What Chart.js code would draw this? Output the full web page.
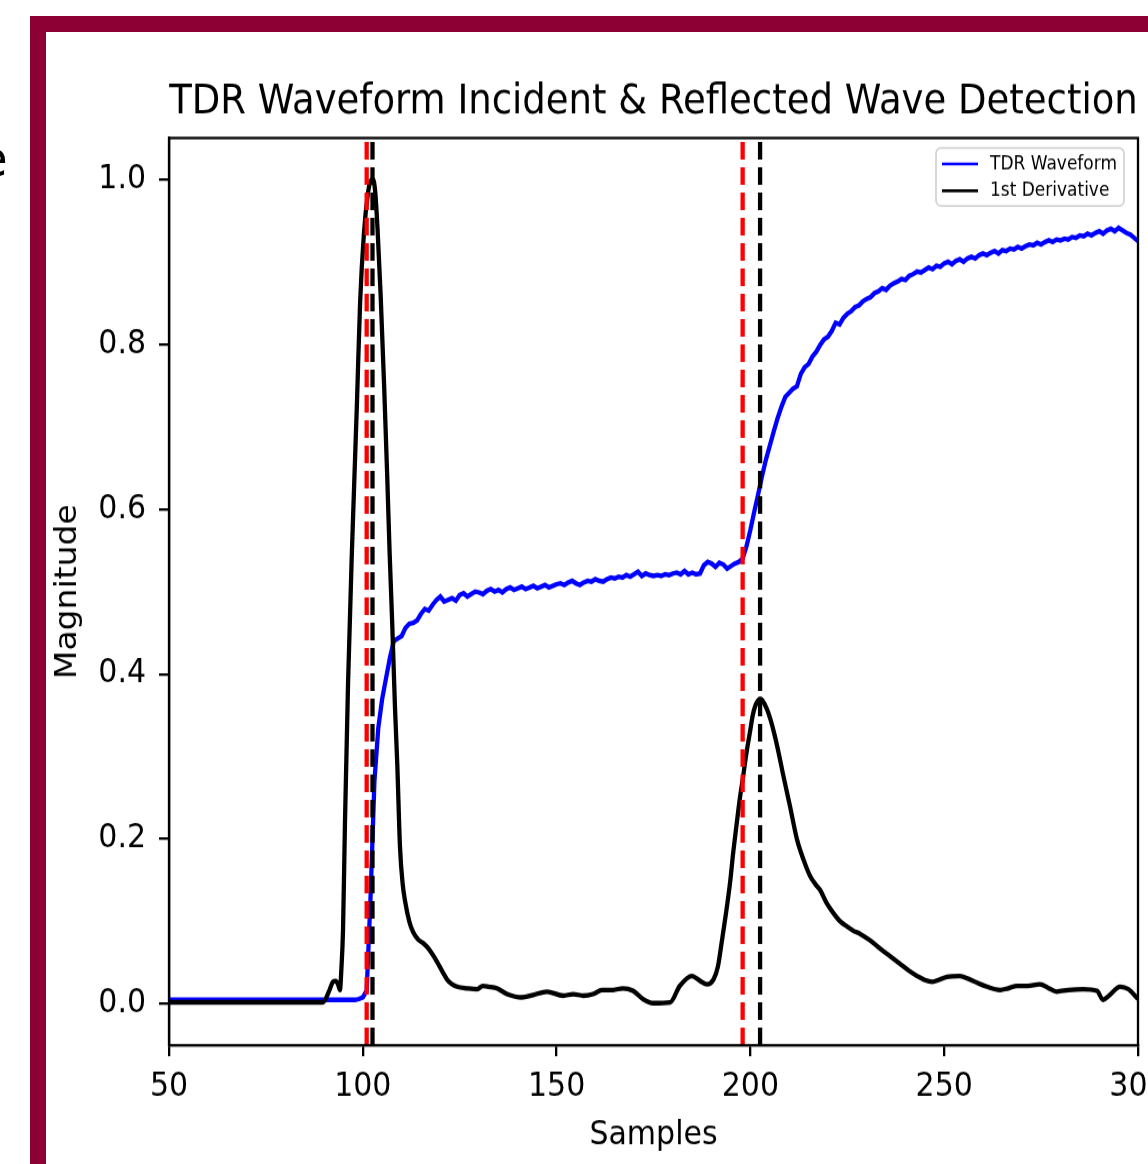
<!DOCTYPE html>
<html>
<head>
<meta charset="utf-8">
<script src="https://cdn.jsdelivr.net/npm/chart.js@4.4.1/dist/chart.umd.min.js"></script>
<style>
  html, body { margin:0; padding:0; background:#fff; overflow:hidden; width:1148px; height:1164px; }
  #wrap { position:absolute; left:0; top:0; width:1200px; height:1058px; transform:scaleY(1.1002); transform-origin:0 0; }
  #frameL { position:absolute; left:30px; top:16px; width:16px; height:1148px; background:#8c0033; }
  #frameT { position:absolute; left:30px; top:16px; width:1118px; height:16px; background:#8c0033; }
  #frag { position:absolute; left:-23px; top:134px; font:50px "DejaVu Sans"; line-height:1; color:#000; }
</style>
</head>
<body>
<div id="frag">e</div>
<div id="wrap"><canvas id="c" width="1200" height="1058"></canvas></div>
<div id="frameL"></div>
<div id="frameT"></div>
<script>
// ---------------- data ----------------
const titleText = "TDR Waveform Incident & Reflected Wave Detection";
const xLabel = "Samples";
const yLabel = "Magnitude";
const xTicks = [50, 100, 150, 200, 250, 300];
const yTicks = [0.0, 0.2, 0.4, 0.6, 0.8, 1.0];
const xMin = 50, xMax = 300, yMin = -0.05, yMax = 1.05;

// TDR waveform, one value per sample starting at sample 50
const waveformStart = 50;
const waveformValues = [
  0.005,0.005,0.005,0.005,0.005,0.005,0.005,0.005,0.005,0.005, // 50
  0.005,0.005,0.005,0.005,0.005,0.005,0.005,0.005,0.005,0.005, // 60
  0.005,0.005,0.005,0.005,0.005,0.005,0.005,0.005,0.005,0.005, // 70
  0.005,0.005,0.005,0.005,0.005,0.005,0.005,0.005,0.005,0.005, // 80
  0.005,0.005,0.005,0.005,0.005,0.005,0.005,0.005,0.005,0.006, // 90
  0.008,0.016,0.130,0.270,0.335,0.370,0.395,0.420,0.440,0.443, // 100
  0.446,0.456,0.461,0.462,0.465,0.473,0.479,0.477,0.484,0.490, // 110
  0.494,0.488,0.490,0.492,0.489,0.496,0.498,0.494,0.497,0.500, // 120
  0.499,0.497,0.501,0.503,0.500,0.502,0.499,0.503,0.505,0.502, // 130
  0.504,0.506,0.503,0.505,0.507,0.504,0.506,0.508,0.505,0.507, // 140
  0.509,0.510,0.508,0.511,0.513,0.510,0.508,0.511,0.513,0.512, // 150
  0.515,0.513,0.512,0.515,0.517,0.516,0.518,0.517,0.520,0.518, // 160
  0.521,0.524,0.519,0.522,0.520,0.519,0.520,0.519,0.521,0.520, // 170
  0.522,0.523,0.521,0.525,0.521,0.523,0.521,0.522,0.532,0.536, // 180
  0.534,0.530,0.535,0.533,0.528,0.531,0.534,0.536,0.540,0.555, // 190
  0.575,0.597,0.618,0.640,0.660,0.677,0.694,0.710,0.724,0.736, // 200
  0.741,0.746,0.749,0.764,0.772,0.776,0.785,0.791,0.799,0.806, // 210
  0.809,0.816,0.826,0.824,0.832,0.837,0.840,0.845,0.847,0.852, // 220
  0.855,0.857,0.862,0.864,0.868,0.866,0.871,0.874,0.876,0.879, // 230
  0.878,0.883,0.885,0.888,0.887,0.890,0.893,0.891,0.895,0.894, // 240
  0.898,0.900,0.897,0.901,0.903,0.900,0.904,0.906,0.904,0.908, // 250
  0.910,0.908,0.911,0.913,0.910,0.914,0.913,0.916,0.915,0.918, // 260
  0.916,0.919,0.921,0.920,0.923,0.921,0.924,0.926,0.924,0.927, // 270
  0.926,0.928,0.927,0.930,0.929,0.932,0.931,0.934,0.932,0.935, // 280
  0.937,0.934,0.938,0.940,0.937,0.941,0.938,0.935,0.933,0.929, // 290
  0.925                                                        // 300
];

// 1st derivative (normalised), read at irregular sample positions
const derivSamples = [
  50,60,70,80,89.7,90.8,91.5,92.3,93.0,93.6,94.1,94.5,94.9,95.4,96.2,97.2,98.5,99.3,100.3,101.3,
  102.0,102.6,103.2,103.8,104.6,105.5,106.3,106.9,107.6,108.3,108.9,109.6,110.3,110.9,112,113,114.3,115.5,116.8,118,
  119.3,120.7,121.7,123,124.3,127,129.5,131,132.5,134.6,137.2,141,144,147.5,151.7,154.3,156.9,159.4,161.7,164.6,
  167.1,169.7,172.3,174.9,179.3,181.8,184.9,187,188.8,190.5,191.6,192.6,193.7,194.7,195.6,196.5,197.3,198.1,199.0,199.9,
  200.6,201.3,202.0,202.5,203.1,204.3,205.3,206.3,207.4,208.4,210.2,212,213.7,215.4,216.8,218,219.6,221.3,223,224.9,
  226.5,228.3,230.9,233.5,236,238.5,241,243,245,247,248.5,250.7,254,257.4,261,264.4,266.5,268.8,271.5,274.7,
  277,279,282,285.8,289.4,291,292.5,295.4,297.5,300
];
const derivValues = [
  0.002,0.002,0.002,0.002,0.002,0.010,0.018,0.027,0.028,0.024,0.017,0.045,0.090,0.220,0.390,0.550,0.730,0.850,0.935,0.982,
  0.998,1.000,0.985,0.940,0.860,0.750,0.640,0.550,0.460,0.360,0.290,0.190,0.145,0.125,0.100,0.087,0.078,0.074,0.068,0.060,
  0.050,0.038,0.030,0.024,0.021,0.019,0.018,0.022,0.021,0.019,0.012,0.008,0.011,0.015,0.010,0.012,0.010,0.012,0.017,0.017,
  0.019,0.016,0.006,0.001,0.002,0.022,0.034,0.028,0.024,0.030,0.045,0.075,0.110,0.145,0.185,0.220,0.250,0.275,0.305,0.330,
  0.350,0.362,0.368,0.370,0.368,0.357,0.343,0.325,0.302,0.279,0.240,0.200,0.175,0.155,0.145,0.138,0.123,0.111,0.101,0.094,
  0.089,0.085,0.077,0.067,0.058,0.049,0.040,0.034,0.029,0.027,0.029,0.033,0.034,0.028,0.021,0.017,0.019,0.022,0.022,0.024,
  0.019,0.015,0.017,0.018,0.016,0.005,0.010,0.021,0.018,0.006
];

// detected positions (samples): incident start, incident peak, reflected start, reflected peak
const markerSamples = [101, 102.5, 198, 202.5];

// ---------------- styles ----------------
const markerColors = ['#ff0000', '#000000', '#ff0000', '#000000'];
const FONT = '"DejaVu Sans", "Liberation Sans", sans-serif';
const LW = 4.3;

// ---------------- build ----------------
const waveformData = waveformValues.map((v, i) => ({ x: waveformStart + i, y: v }));
const derivData = derivSamples.map((s, i) => ({ x: s, y: derivValues[i] }));

const datasets = [
  { label: 'TDR Waveform', data: waveformData, borderColor: '#0000ff', borderWidth: LW,
    pointRadius: 0, tension: 0, fill: false, order: 2 },
  { label: '1st Derivative', data: derivData, borderColor: '#000000', borderWidth: LW,
    pointRadius: 0, cubicInterpolationMode: 'monotone', fill: false, order: 1 }
];
markerSamples.forEach((s, i) => {
  datasets.push({
    label: '_marker' + i,
    data: [{ x: s, y: yMin }, { x: s, y: yMax }],
    borderColor: markerColors[i], borderWidth: LW, borderDash: [16, 7],
    pointRadius: 0, fill: false, order: 0
  });
});

const framePlugin = {
  id: 'frame',
  afterDraw(chart) {
    const { ctx, chartArea: a } = chart;
    ctx.save();
    ctx.strokeStyle = '#000';
    ctx.lineWidth = 2.3;
    ctx.strokeRect(a.left, a.top, a.right - a.left, a.bottom - a.top);
    ctx.restore();
  }
};

const legendPlugin = {
  id: 'boxLegend',
  afterDraw(chart) {
    const { ctx, chartArea: a } = chart;
    const items = chart.data.datasets.slice(0, 2);
    const w = 188, h = 52.8;
    const x0 = a.right - 14 - w, y0 = a.top + 9;
    ctx.save();
    ctx.beginPath();
    if (ctx.roundRect) ctx.roundRect(x0, y0, w, h, 5); else ctx.rect(x0, y0, w, h);
    ctx.fillStyle = 'rgba(255,255,255,0.8)';
    ctx.fill();
    ctx.strokeStyle = '#cccccc';
    ctx.lineWidth = 1.5;
    ctx.stroke();
    ctx.font = '17px ' + FONT;
    ctx.textBaseline = 'middle';
    ctx.textAlign = 'left';
    items.forEach((d, i) => {
      const y = y0 + 14.5 + i * 24.4;
      ctx.beginPath();
      ctx.moveTo(x0 + 6, y);
      ctx.lineTo(x0 + 42, y);
      ctx.strokeStyle = d.borderColor;
      ctx.lineWidth = 2.6;
      ctx.stroke();
      ctx.fillStyle = '#000';
      ctx.fillText(d.label, x0 + 54, y + 0.5);
    });
    ctx.restore();
  }
};

Chart.defaults.font.family = FONT;
Chart.defaults.color = '#000';

new Chart(document.getElementById('c'), {
  type: 'line',
  data: { datasets },
  options: {
    responsive: false,
    animation: false,
    events: [],
    layout: { padding: { left: 0, right: 62, top: 0, bottom: 0 } },
    plugins: {
      legend: { display: false },
      tooltip: { enabled: false },
      title: {
        display: true, text: titleText, fullSize: false, color: '#000',
        font: { family: FONT, size: 37, weight: 'normal' },
        padding: { top: 71.5, bottom: 9.55 }
      }
    },
    scales: {
      x: {
        type: 'linear', min: xMin, max: xMax,
        afterBuildTicks(s) { s.ticks = xTicks.map(v => ({ value: v })); },
        afterFit(s) { s.height = 108; },
        ticks: { font: { family: FONT, size: 30 }, color: '#000', padding: 10, maxRotation: 0,
                 autoSkip: false, callback: v => String(v) },
        grid: { display: true, drawOnChartArea: false, drawTicks: true, tickLength: 10,
                color: '#000', lineWidth: 2.3 },
        border: { display: true, color: '#000', width: 2.3 },
        title: { display: true, text: xLabel, color: '#000',
                 font: { family: FONT, size: 30 }, padding: { top: 0, bottom: 8 } }
      },
      y: {
        type: 'linear', min: yMin, max: yMax,
        afterBuildTicks(s) { s.ticks = yTicks.map(v => ({ value: v })); },
        afterFit(s) { s.width = 169; },
        ticks: { font: { family: FONT, size: 30 }, color: '#000', padding: 13,
                 autoSkip: false, callback: v => Number(v).toFixed(1) },
        grid: { display: true, drawOnChartArea: false, drawTicks: true, tickLength: 10,
                color: '#000', lineWidth: 2.3 },
        border: { display: true, color: '#000', width: 2.3 },
        title: { display: true, text: yLabel, color: '#000',
                 font: { family: FONT, size: 30 }, padding: { top: 50, bottom: 0 } }
      }
    }
  },
  plugins: [framePlugin, legendPlugin]
});
</script>
</body>
</html>
